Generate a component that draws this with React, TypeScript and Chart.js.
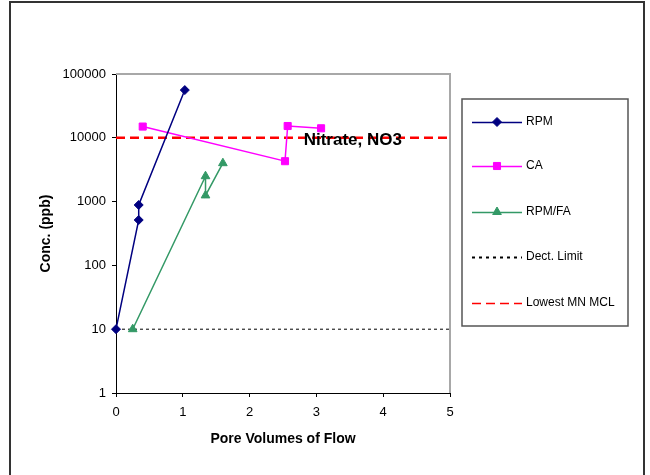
import React, { useEffect, useRef } from "react";
import { Chart, registerables } from "chart.js";

Chart.register(...registerables);

// ---- data ----
const RPM_X = [0, 0.34, 0.34, 1.03];
const RPM_Y = [10, 515, 885, 56000];
const CA_X = [0.4, 2.53, 2.57, 3.07];
const CA_Y = [15000, 4300, 15300, 14100];
const FA_X = [0.25, 1.34, 1.34, 1.6];
const FA_Y = [10, 2500, 1250, 4000];
const DETECT_X = [0, 5];
const DETECT_Y = [10, 10];
const MCL_X = [0, 5];
const MCL_Y = [10000, 10000];
const Y_TICKS = [1, 10, 100, 1000, 10000, 100000];
const X_MIN = 0;
const X_MAX = 5;
const NOTE_TEXT = "Nitrate, NO3";
const NOTE_POS = { x: 2.81, y: 10000 };
const LEGEND_LABELS = ["RPM", "CA", "RPM/FA", "Dect. Limit", "Lowest MN MCL"];

const FONT = "Arial, 'Liberation Sans', sans-serif";

const pts = (xs: number[], ys: number[]) => xs.map((x, i) => ({ x, y: ys[i] }));

const framePlugin = {
  id: "frame",
  beforeDatasetsDraw(chart: any) {
    const { ctx, chartArea } = chart;
    ctx.save();
    ctx.strokeStyle = "#a8a8a8";
    ctx.lineWidth = 2;
    ctx.beginPath();
    ctx.moveTo(chartArea.left, chartArea.top);
    ctx.lineTo(chartArea.right, chartArea.top);
    ctx.lineTo(chartArea.right, chartArea.bottom);
    ctx.stroke();
    ctx.restore();
  },
  afterDatasetsDraw(chart: any) {
    const { ctx } = chart;
    const xs = chart.scales.x;
    const ys = chart.scales.y;
    ctx.save();
    ctx.font = `bold 17px ${FONT}`;
    ctx.fillStyle = "#000";
    ctx.textBaseline = "middle";
    ctx.textAlign = "left";
    ctx.fillText(NOTE_TEXT, xs.getPixelForValue(NOTE_POS.x), ys.getPixelForValue(NOTE_POS.y) + 3);
    ctx.restore();
  },
  afterDraw(chart: any) {
    const { ctx, height } = chart;
    ctx.save();
    // outer border
    ctx.strokeStyle = "#333";
    ctx.lineWidth = 2;
    ctx.beginPath();
    ctx.moveTo(10, height + 2);
    ctx.lineTo(10, 2);
    ctx.lineTo(644, 2);
    ctx.lineTo(644, height + 2);
    ctx.stroke();

    // legend box
    const bx = 462, by = 99, bw = 166, bh = 227;
    ctx.strokeStyle = "#555";
    ctx.lineWidth = 1.5;
    ctx.strokeRect(bx, by, bw, bh);

    const rowY = [122, 166, 212, 257, 303];
    const x0 = 472, x1 = 522, xm = 497;
    ctx.font = `12px ${FONT}`;
    ctx.textBaseline = "middle";
    ctx.textAlign = "left";
    chart.data.datasets.forEach((ds: any, i: number) => {
      const y = rowY[i];
      ctx.save();
      ctx.strokeStyle = ds.borderColor;
      if (i === 3) {
        ctx.lineWidth = 2;
        ctx.setLineDash([3, 4]);
      } else if (i === 4) {
        ctx.lineWidth = 1.3;
        ctx.setLineDash([9, 5]);
      } else {
        ctx.lineWidth = 1.5;
      }
      ctx.beginPath();
      ctx.moveTo(x0, y + 0.5);
      ctx.lineTo(x1, y + 0.5);
      ctx.stroke();
      ctx.restore();
      if (ds.pointRadius > 0) {
        ctx.save();
        ctx.fillStyle = ds.backgroundColor;
        ctx.strokeStyle = ds.borderColor;
        ctx.lineWidth = 1;
        const r = ds.pointRadius;
        ctx.beginPath();
        if (ds.pointStyle === "rectRot") {
          ctx.moveTo(xm, y - r);
          ctx.lineTo(xm + r, y);
          ctx.lineTo(xm, y + r);
          ctx.lineTo(xm - r, y);
          ctx.closePath();
        } else if (ds.pointStyle === "rect") {
          const s = r * Math.SQRT1_2;
          ctx.rect(xm - s, y - s, 2 * s, 2 * s);
        } else {
          const h = r * 1.5;
          const hw = r * Math.cos(Math.PI / 6);
          ctx.moveTo(xm, y - r);
          ctx.lineTo(xm + hw, y - r + h);
          ctx.lineTo(xm - hw, y - r + h);
          ctx.closePath();
        }
        ctx.fill();
        ctx.stroke();
        ctx.restore();
      }
      ctx.fillStyle = "#000";
      ctx.fillText(LEGEND_LABELS[i], 526, y);
    });
    ctx.restore();
  },
};

export default function App() {
  const ref = useRef<HTMLCanvasElement>(null);
  useEffect(() => {
    if (!ref.current) return;
    const chart = new Chart(ref.current, {
      type: "scatter",
      data: {
        datasets: [
          {
            label: LEGEND_LABELS[0],
            data: pts(RPM_X, RPM_Y),
            showLine: true,
            borderColor: "#000080",
            backgroundColor: "#000080",
            borderWidth: 1.5,
            pointStyle: "rectRot",
            pointRadius: 4.5,
            pointBorderWidth: 1,
            clip: false,
          },
          {
            label: LEGEND_LABELS[1],
            data: pts(CA_X, CA_Y),
            showLine: true,
            borderColor: "#FF00FF",
            backgroundColor: "#FF00FF",
            borderWidth: 1.5,
            pointStyle: "rect",
            pointRadius: 5,
            pointBorderWidth: 1,
            clip: false,
          },
          {
            label: LEGEND_LABELS[2],
            data: pts(FA_X, FA_Y),
            showLine: true,
            borderColor: "#339966",
            backgroundColor: "#339966",
            borderWidth: 1.5,
            pointStyle: "triangle",
            pointRadius: 5,
            pointBorderWidth: 1,
            clip: false,
          },
          {
            label: LEGEND_LABELS[3],
            data: pts(DETECT_X, DETECT_Y),
            showLine: true,
            borderColor: "#000000",
            backgroundColor: "#000000",
            borderWidth: 1,
            borderDash: [3, 3],
            pointRadius: 0,
            clip: false,
          },
          {
            label: LEGEND_LABELS[4],
            data: pts(MCL_X, MCL_Y),
            showLine: true,
            borderColor: "#FF0000",
            backgroundColor: "#FF0000",
            borderWidth: 2.5,
            borderDash: [9, 5],
            pointRadius: 0,
            clip: false,
          },
        ],
      },
      options: {
        responsive: false,
        animation: false,
        events: [],
        layout: { padding: { left: 30, top: 74, right: 200, bottom: 20 } },
        plugins: { legend: { display: false }, tooltip: { enabled: false } },
        scales: {
          x: {
            type: "linear",
            min: X_MIN,
            max: X_MAX,
            afterFit: (s: any) => {
              s.height = 62;
            },
            border: { color: "#000", width: 1 },
            grid: { display: true, drawOnChartArea: false, drawTicks: true, tickLength: 4, color: "#000" },
            ticks: { stepSize: 1, color: "#000", font: { family: FONT, size: 13 }, padding: 8 },
            title: {
              display: true,
              text: "Pore Volumes of Flow",
              color: "#000",
              font: { family: FONT, size: 14, weight: "bold" },
              padding: { top: 0, bottom: 7 },
            },
          },
          y: {
            type: "logarithmic",
            min: 1,
            max: 100000,
            afterFit: (s: any) => {
              s.width = 86;
            },
            afterBuildTicks: (s: any) => {
              s.ticks = Y_TICKS.map((v) => ({ value: v }));
            },
            border: { color: "#000", width: 1 },
            grid: { display: true, drawOnChartArea: false, drawTicks: true, tickLength: 4, color: "#000" },
            ticks: {
              autoSkip: false,
              color: "#000",
              font: { family: FONT, size: 13 },
              padding: 6,
              callback: (v: any) => String(v),
            },
            title: {
              display: true,
              text: "Conc. (ppb)",
              color: "#000",
              font: { family: FONT, size: 14, weight: "bold" },
              padding: { top: 8, bottom: 0 },
            },
          },
        },
      },
      plugins: [framePlugin],
    } as any);
    return () => chart.destroy();
  }, []);
  return (
    <div style={{ position: "absolute", left: 0, top: 0, width: 650, height: 475, background: "#fff" }}>
      <canvas ref={ref} width={650} height={475} style={{ display: "block" }} />
    </div>
  );
}
